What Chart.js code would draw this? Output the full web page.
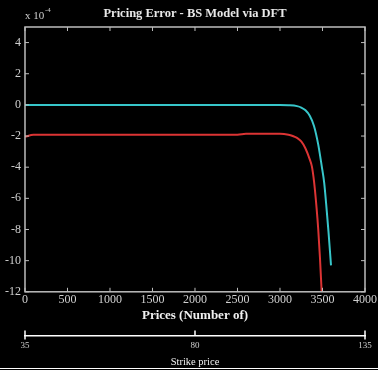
<!DOCTYPE html>
<html>
<head>
<meta charset="utf-8">
<script src="https://cdn.jsdelivr.net/npm/chart.js@4"></script>
<style>
  html, body { margin: 0; padding: 0; background: #000; }
  #wrap { width: 378px; height: 370px; }
</style>
</head>
<body>
<div id="wrap"><canvas id="plot-error"></canvas></div>
<script>
const cyanPrices = [0, 1000, 2000, 3000, 3100, 3200, 3250, 3300, 3350, 3400, 3450, 3490, 3520, 3550, 3570, 3600];
const cyanError  = [0, 0, 0, 0, -0.02, -0.08, -0.17, -0.35, -0.7, -1.35, -2.55, -3.9, -5.0, -6.8, -8.1, -10.3];

const redPrices = [0, 100, 1000, 2000, 2500, 2600, 3000, 3100, 3150, 3200, 3250, 3300, 3350, 3375, 3400, 3430, 3450, 3470, 3490];
const redError  = [-2.05, -1.92, -1.92, -1.92, -1.92, -1.86, -1.86, -1.92, -2.0, -2.12, -2.35, -2.8, -3.5, -3.95, -4.9, -6.6, -8.0, -9.8, -12];

const strikeLabels = ['35', '80', '135'];

const serif = "'Liberation Serif', 'DejaVu Serif', serif";
const axisColor = '#bdbdbd';

function points(xs, ys) {
    return xs.map((x, i) => ({ x: x, y: ys[i] }));
}

// MATLAB style box with ticks pointing inwards, plus the strike price axis ticks
const boxTicks = {
    id: 'boxTicks',
    afterDraw(chart) {
        const ctx = chart.ctx;
        const a = chart.chartArea;
        const sx = chart.scales.x, sy = chart.scales.y, s2 = chart.scales.x2;
        const len = 4;

        ctx.save();
        ctx.strokeStyle = axisColor;
        ctx.lineWidth = 1.5;
        ctx.strokeRect(a.left, a.top, a.right - a.left, a.bottom - a.top);

        ctx.lineWidth = 1;
        ctx.beginPath();
        sx.ticks.forEach(t => {
            const px = sx.getPixelForValue(t.value);
            ctx.moveTo(px, a.bottom); ctx.lineTo(px, a.bottom - len);
            ctx.moveTo(px, a.top); ctx.lineTo(px, a.top + len);
        });
        sy.ticks.forEach(t => {
            const py = sy.getPixelForValue(t.value);
            ctx.moveTo(a.left, py); ctx.lineTo(a.left + len, py);
            ctx.moveTo(a.right, py); ctx.lineTo(a.right - len, py);
        });
        ctx.stroke();

        // strike price axis ticks
        ctx.strokeStyle = '#ffffff';
        ctx.lineWidth = 1.5;
        ctx.beginPath();
        const by = s2.top;
        s2.ticks.forEach((t, i) => {
            const px = s2.getPixelForValue(t.value);
            const end = i === 0 || i === s2.ticks.length - 1;
            ctx.moveTo(px, by - 5);
            ctx.lineTo(px, end ? by + 4 : by);
        });
        ctx.stroke();

        // exponent label
        ctx.fillStyle = '#cfcfcf';
        ctx.font = '11px ' + serif;
        ctx.textBaseline = 'alphabetic';
        ctx.fillText('x 10', a.left, a.top - 8);
        ctx.font = '7px ' + serif;
        ctx.fillText('-4', a.left + 20, a.top - 15);

        // bottom frame line
        ctx.strokeStyle = '#ffffff';
        ctx.lineWidth = 1;
        ctx.beginPath();
        ctx.moveTo(0, chart.height - 1.5);
        ctx.lineTo(chart.width, chart.height - 1.5);
        ctx.stroke();
        ctx.restore();
    }
};

new Chart('plot-error', {
    type: 'line',
    data: {
        datasets: [{
            data: points(cyanPrices, cyanError),
            borderColor: '#37c6ca',
            borderWidth: 2,
            pointRadius: 0,
            cubicInterpolationMode: 'monotone'
        }, {
            data: points(redPrices, redError),
            borderColor: '#dc3434',
            borderWidth: 2,
            pointRadius: 0,
            cubicInterpolationMode: 'monotone'
        }]
    },
    options: {
        responsive: true,
        maintainAspectRatio: false,
        animation: false,
        layout: { padding: { left: 1, right: 8, top: 0, bottom: 3 } },
        plugins: {
            legend: { display: false },
            tooltip: { enabled: false },
            title: {
                display: true,
                fullSize: false,
                text: 'Pricing Error - BS Model via DFT',
                color: '#e8e8e8',
                font: { family: serif, size: 12.5, weight: 'bold' },
                padding: { top: 6, bottom: 6 }
            }
        },
        scales: {
            x: {
                type: 'linear',
                position: 'bottom',
                weight: 0,
                min: 0,
                max: 4000,
                grid: { display: false, drawTicks: false, tickLength: 0 },
                border: { display: false },
                ticks: {
                    stepSize: 500,
                    color: '#d0d0d0',
                    font: { family: serif, size: 12 },
                    padding: 1,
                    maxRotation: 0,
                    callback: v => String(v)
                },
                title: {
                    display: true,
                    text: 'Prices (Number of)',
                    color: '#f0f0f0',
                    font: { family: serif, size: 13, weight: 'bold', lineHeight: 1.1 },
                    padding: { top: 0, bottom: 13 }
                }
            },
            x2: {
                type: 'linear',
                position: 'bottom',
                weight: 1,
                min: 0,
                max: 2,
                grid: { display: false, drawTicks: false, tickLength: 0 },
                border: { display: true, color: '#ffffff', width: 1.5 },
                ticks: {
                    stepSize: 1,
                    color: '#d0d0d0',
                    font: { family: serif, size: 9, lineHeight: 1 },
                    padding: 6,
                    callback: (v, i) => strikeLabels[i]
                },
                title: {
                    display: true,
                    text: 'Strike price',
                    color: '#f0f0f0',
                    font: { family: serif, size: 10.5, lineHeight: 1 },
                    padding: { top: 0, bottom: 0 }
                }
            },
            y: {
                min: -12,
                max: 5,
                grid: { display: false, drawTicks: false, tickLength: 0 },
                border: { display: false },
                afterBuildTicks: scale => {
                    scale.ticks = scale.ticks.filter(t => t.value <= 4);
                },
                ticks: {
                    stepSize: 2,
                    color: '#d0d0d0',
                    font: { family: serif, size: 12 },
                    padding: 4
                }
            }
        }
    },
    plugins: [boxTicks]
});
</script>
</body>
</html>
